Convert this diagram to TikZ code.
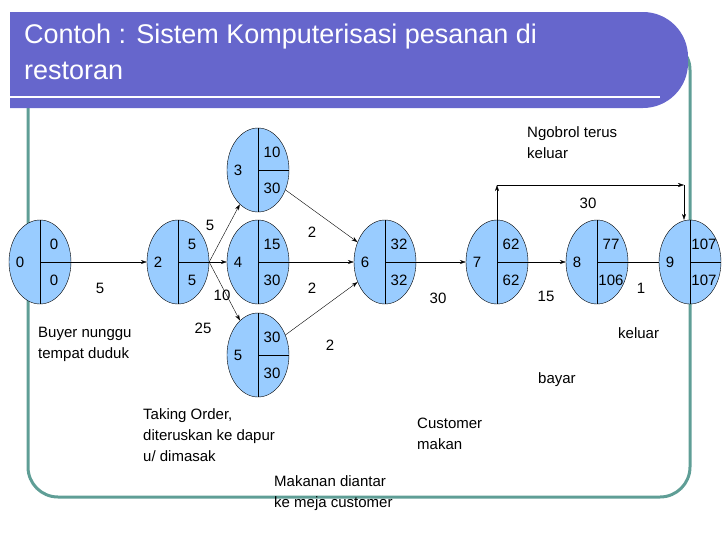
\documentclass[tikz,border=0pt]{standalone}
\usepackage{fontspec}
\setmainfont{Liberation Sans}
\usetikzlibrary{shapes.geometric,arrows.meta}
\definecolor{ttl}{HTML}{6666CC}
\definecolor{frm}{HTML}{5F9E96}
\definecolor{nd}{HTML}{99CCFF}
\begin{document}
\begin{tikzpicture}[x=1pt,y=-1pt,
  ev/.style={ellipse,draw,fill=nd,minimum width=62pt,minimum height=84pt,inner sep=0},
  lb/.style={font=\fontsize{15}{17}\selectfont,inner sep=0},
  tx/.style={font=\fontsize{15}{21}\selectfont,align=left,anchor=north west,inner sep=0},
  ar/.style={-{Stealth[length=6pt,width=4pt]}}]
\useasboundingbox (0,0) rectangle (728,546);
\draw[frm,line width=3pt,rounded corners=30pt] (28,40) rectangle (690,497);
\fill[ttl] (10,12) [rounded corners=45pt] -- (688,12) -- (688,108) [sharp corners] -- (10,108) -- cycle;
\draw[white,line width=2pt] (10,97) -- (660,97);
\node[anchor=north west,white,font=\fontsize{27}{36}\selectfont,align=left,inner sep=0] (title) at (24,24) {Contoh : Sistem Komputerisasi pesanan di\\restoran};
\newcommand{\evn}[6]{%
 \node[ev] (#1) at (#2,#3) {};
 \draw (#1.north) -- (#1.south);
 \draw (#1.center) -- (#1.east);
 \node[lb] (#1l) at (#2-20,#3) {#4};
 \node[lb] (#1t) at (#2+14,#3-18) {#5};
 \node[lb] (#1b) at (#2+14,#3+18) {#6};}
\evn{n0}{40}{262}{0}{0}{0}
\evn{n2}{178}{262}{2}{5}{5}
\evn{n3}{258}{170}{3}{10}{30}
\evn{n4}{258}{262}{4}{15}{30}
\evn{n5}{258}{355}{5}{30}{30}
\evn{n6}{385}{262}{6}{32}{32}
\evn{n7}{497}{262}{7}{62}{62}
\evn{n8}{597}{262}{8}{77}{106}
\evn{n9}{690}{262}{9}{107}{107}
\draw[ar] (n0) -- (n2);
\draw[ar] (n2.east) -- (n3);
\draw[ar] (n2.east) -- (n4);
\draw[ar] (n2.east) -- (n5);
\draw[ar] (n3) -- (n6);
\draw[ar] (n4) -- (n6);
\draw[ar] (n5) -- (n6);
\draw[ar] (n6) -- (n7);
\draw[ar] (n7) -- (n8);
\draw (n8) -- (n9);
\coordinate (c1) at (497,185);
\coordinate (c2) at (684,185);
\draw[ar] (n7.north) -- (c1);
\draw[ar] (c1) -- (c2);
\draw[ar] (c2) -- (n9.north -| c2);
\node[lb] at (100,288) {5};
\node[lb] at (210,225) {5};
\node[lb] at (222,295) {10};
\node[lb] at (203,328) {25};
\node[lb] at (312,232) {2};
\node[lb] at (312,288) {2};
\node[lb] at (330,345) {2};
\node[lb] at (438,298) {30};
\node[lb] at (546,296) {15};
\node[lb] at (641,288) {1};
\node[lb] at (588,203) {30};
\node[tx] at (38,327) {Buyer nunggu\\tempat duduk};
\node[tx] at (143,408) {Taking Order,\\diteruskan ke dapur\\u/ dimasak};
\node[tx] at (274,475) {Makanan diantar\\ke meja customer};
\node[tx] at (417,418) {Customer\\makan};
\node[tx] at (538,372) {bayar};
\node[tx] at (618,327) {keluar};
\node[tx] at (527,126) {Ngobrol terus\\keluar};
\end{tikzpicture}
\end{document}
